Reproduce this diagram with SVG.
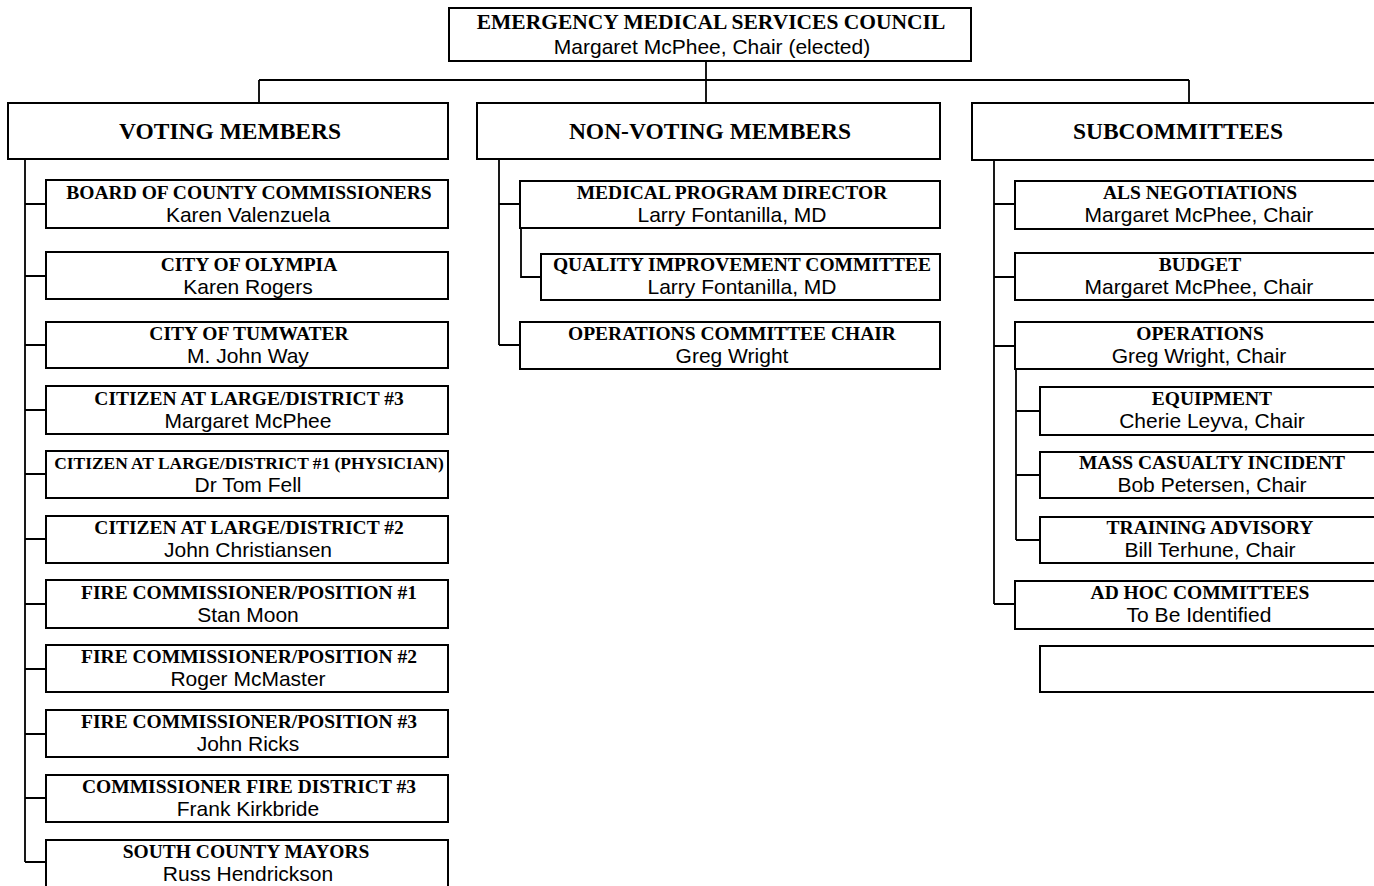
<svg xmlns="http://www.w3.org/2000/svg" width="1374" height="886" viewBox="0 0 1374 886">
<style>
.bx{fill:#fff;stroke:#000;stroke-width:2}
.cn{fill:none;stroke:#000;stroke-width:1.8}
.t{font-family:"Liberation Serif","Times New Roman",serif;font-weight:bold;font-size:19.5px;text-anchor:middle;fill:#000}
.h{font-family:"Liberation Serif","Times New Roman",serif;font-weight:bold;font-size:23.5px;text-anchor:middle;fill:#000}
.s{font-family:"Liberation Sans",Arial,sans-serif;font-size:21px;text-anchor:middle;fill:#000}
</style>
<rect width="1374" height="886" fill="#fff"/>
<g id="connectors">
<path class="cn" d="M706 61V103M259 80H1189M259 80V103M1189 80V103"/>
<path class="cn" d="M25 159V862M25 204H46M25 276H46M25 345H46M25 410H46M25 474H46M25 539H46M25 604H46M25 669H46M25 734H46M25 798H46M25 862H46"/>
<path class="cn" d="M499 159V345M499 204H520M499 345H520M521 228V277H541"/>
<path class="cn" d="M994 160V604M994 204H1015M994 277H1015M994 346H1015M994 604H1015M1016 369V540M1016 411H1040M1016 475H1040M1016 540H1040"/>
</g>
<g id="council"><rect class="bx" x="449" y="8" width="522" height="53"/><text class="t" x="711" y="29" style="font-size:21.5px">EMERGENCY MEDICAL SERVICES COUNCIL</text><text class="s" x="712" y="54">Margaret McPhee, Chair (elected)</text></g>
<g id="voting"><rect class="bx" x="8" y="103" width="440" height="56"/><text class="h" x="230" y="139">VOTING MEMBERS</text></g>
<g id="nonvoting"><rect class="bx" x="477" y="103" width="463" height="56"/><text class="h" x="710" y="139">NON-VOTING MEMBERS</text></g>
<g id="subcommittees"><rect class="bx" x="972" y="103" width="420" height="57"/><text class="h" x="1178" y="139">SUBCOMMITTEES</text></g>

<g id="v1"><rect class="bx" x="46" y="180" width="402" height="48"/><text class="t" x="249" y="199">BOARD OF COUNTY COMMISSIONERS</text><text class="s" x="248" y="222">Karen Valenzuela</text></g>
<g id="v2"><rect class="bx" x="46" y="252" width="402" height="47"/><text class="t" x="249" y="271">CITY OF OLYMPIA</text><text class="s" x="248" y="294">Karen Rogers</text></g>
<g id="v3"><rect class="bx" x="46" y="322" width="402" height="46"/><text class="t" x="249" y="340">CITY OF TUMWATER</text><text class="s" x="248" y="363">M. John Way</text></g>
<g id="v4"><rect class="bx" x="46" y="386" width="402" height="48"/><text class="t" x="249" y="405">CITIZEN AT LARGE/DISTRICT #3</text><text class="s" x="248" y="428">Margaret McPhee</text></g>
<g id="v5"><rect class="bx" x="46" y="451" width="402" height="47"/><text class="t" x="249" y="469" style="font-size:17.4px">CITIZEN AT LARGE/DISTRICT #1 (PHYSICIAN)</text><text class="s" x="248" y="492">Dr Tom Fell</text></g>
<g id="v6"><rect class="bx" x="46" y="516" width="402" height="47"/><text class="t" x="249" y="534">CITIZEN AT LARGE/DISTRICT #2</text><text class="s" x="248" y="557">John Christiansen</text></g>
<g id="v7"><rect class="bx" x="46" y="580" width="402" height="48"/><text class="t" x="249" y="599">FIRE COMMISSIONER/POSITION #1</text><text class="s" x="248" y="622">Stan Moon</text></g>
<g id="v8"><rect class="bx" x="46" y="645" width="402" height="47"/><text class="t" x="249" y="663">FIRE COMMISSIONER/POSITION #2</text><text class="s" x="248" y="686">Roger McMaster</text></g>
<g id="v9"><rect class="bx" x="46" y="710" width="402" height="47"/><text class="t" x="249" y="728">FIRE COMMISSIONER/POSITION #3</text><text class="s" x="248" y="751">John Ricks</text></g>
<g id="v10"><rect class="bx" x="46" y="775" width="402" height="47"/><text class="t" x="249" y="793">COMMISSIONER FIRE DISTRICT #3</text><text class="s" x="248" y="816">Frank Kirkbride</text></g>
<g id="v11"><rect class="bx" x="46" y="840" width="402" height="56"/><text class="t" x="246" y="858">SOUTH COUNTY MAYORS</text><text class="s" x="248" y="881">Russ Hendrickson</text></g>

<g id="n1"><rect class="bx" x="520" y="181" width="420" height="47"/><text class="t" x="732" y="199">MEDICAL PROGRAM DIRECTOR</text><text class="s" x="732" y="222">Larry Fontanilla, MD</text></g>
<g id="n2"><rect class="bx" x="541" y="254" width="399" height="46"/><text class="t" x="742" y="271">QUALITY IMPROVEMENT COMMITTEE</text><text class="s" x="742" y="294">Larry Fontanilla, MD</text></g>
<g id="n3"><rect class="bx" x="520" y="322" width="420" height="47"/><text class="t" x="732" y="340">OPERATIONS COMMITTEE CHAIR</text><text class="s" x="732" y="363">Greg Wright</text></g>

<g id="s1"><rect class="bx" x="1015" y="181" width="380" height="48"/><text class="t" x="1200" y="199">ALS NEGOTIATIONS</text><text class="s" x="1199" y="222">Margaret McPhee, Chair</text></g>
<g id="s2"><rect class="bx" x="1015" y="253" width="380" height="47"/><text class="t" x="1200" y="271">BUDGET</text><text class="s" x="1199" y="294">Margaret McPhee, Chair</text></g>
<g id="s3"><rect class="bx" x="1015" y="322" width="380" height="47"/><text class="t" x="1200" y="340">OPERATIONS</text><text class="s" x="1199" y="363">Greg Wright, Chair</text></g>
<g id="s4"><rect class="bx" x="1040" y="387" width="360" height="48"/><text class="t" x="1212" y="405">EQUIPMENT</text><text class="s" x="1212" y="428">Cherie Leyva, Chair</text></g>
<g id="s5"><rect class="bx" x="1040" y="452" width="360" height="46"/><text class="t" x="1212" y="469">MASS CASUALTY INCIDENT</text><text class="s" x="1212" y="492">Bob Petersen, Chair</text></g>
<g id="s6"><rect class="bx" x="1040" y="517" width="360" height="46"/><text class="t" x="1210" y="534">TRAINING ADVISORY</text><text class="s" x="1210" y="557">Bill Terhune, Chair</text></g>
<g id="s7"><rect class="bx" x="1015" y="581" width="380" height="48"/><text class="t" x="1200" y="599">AD HOC COMMITTEES</text><text class="s" x="1199" y="622">To Be Identified</text></g>
<g id="s8"><rect class="bx" x="1040" y="646" width="360" height="46"/></g>
</svg>
